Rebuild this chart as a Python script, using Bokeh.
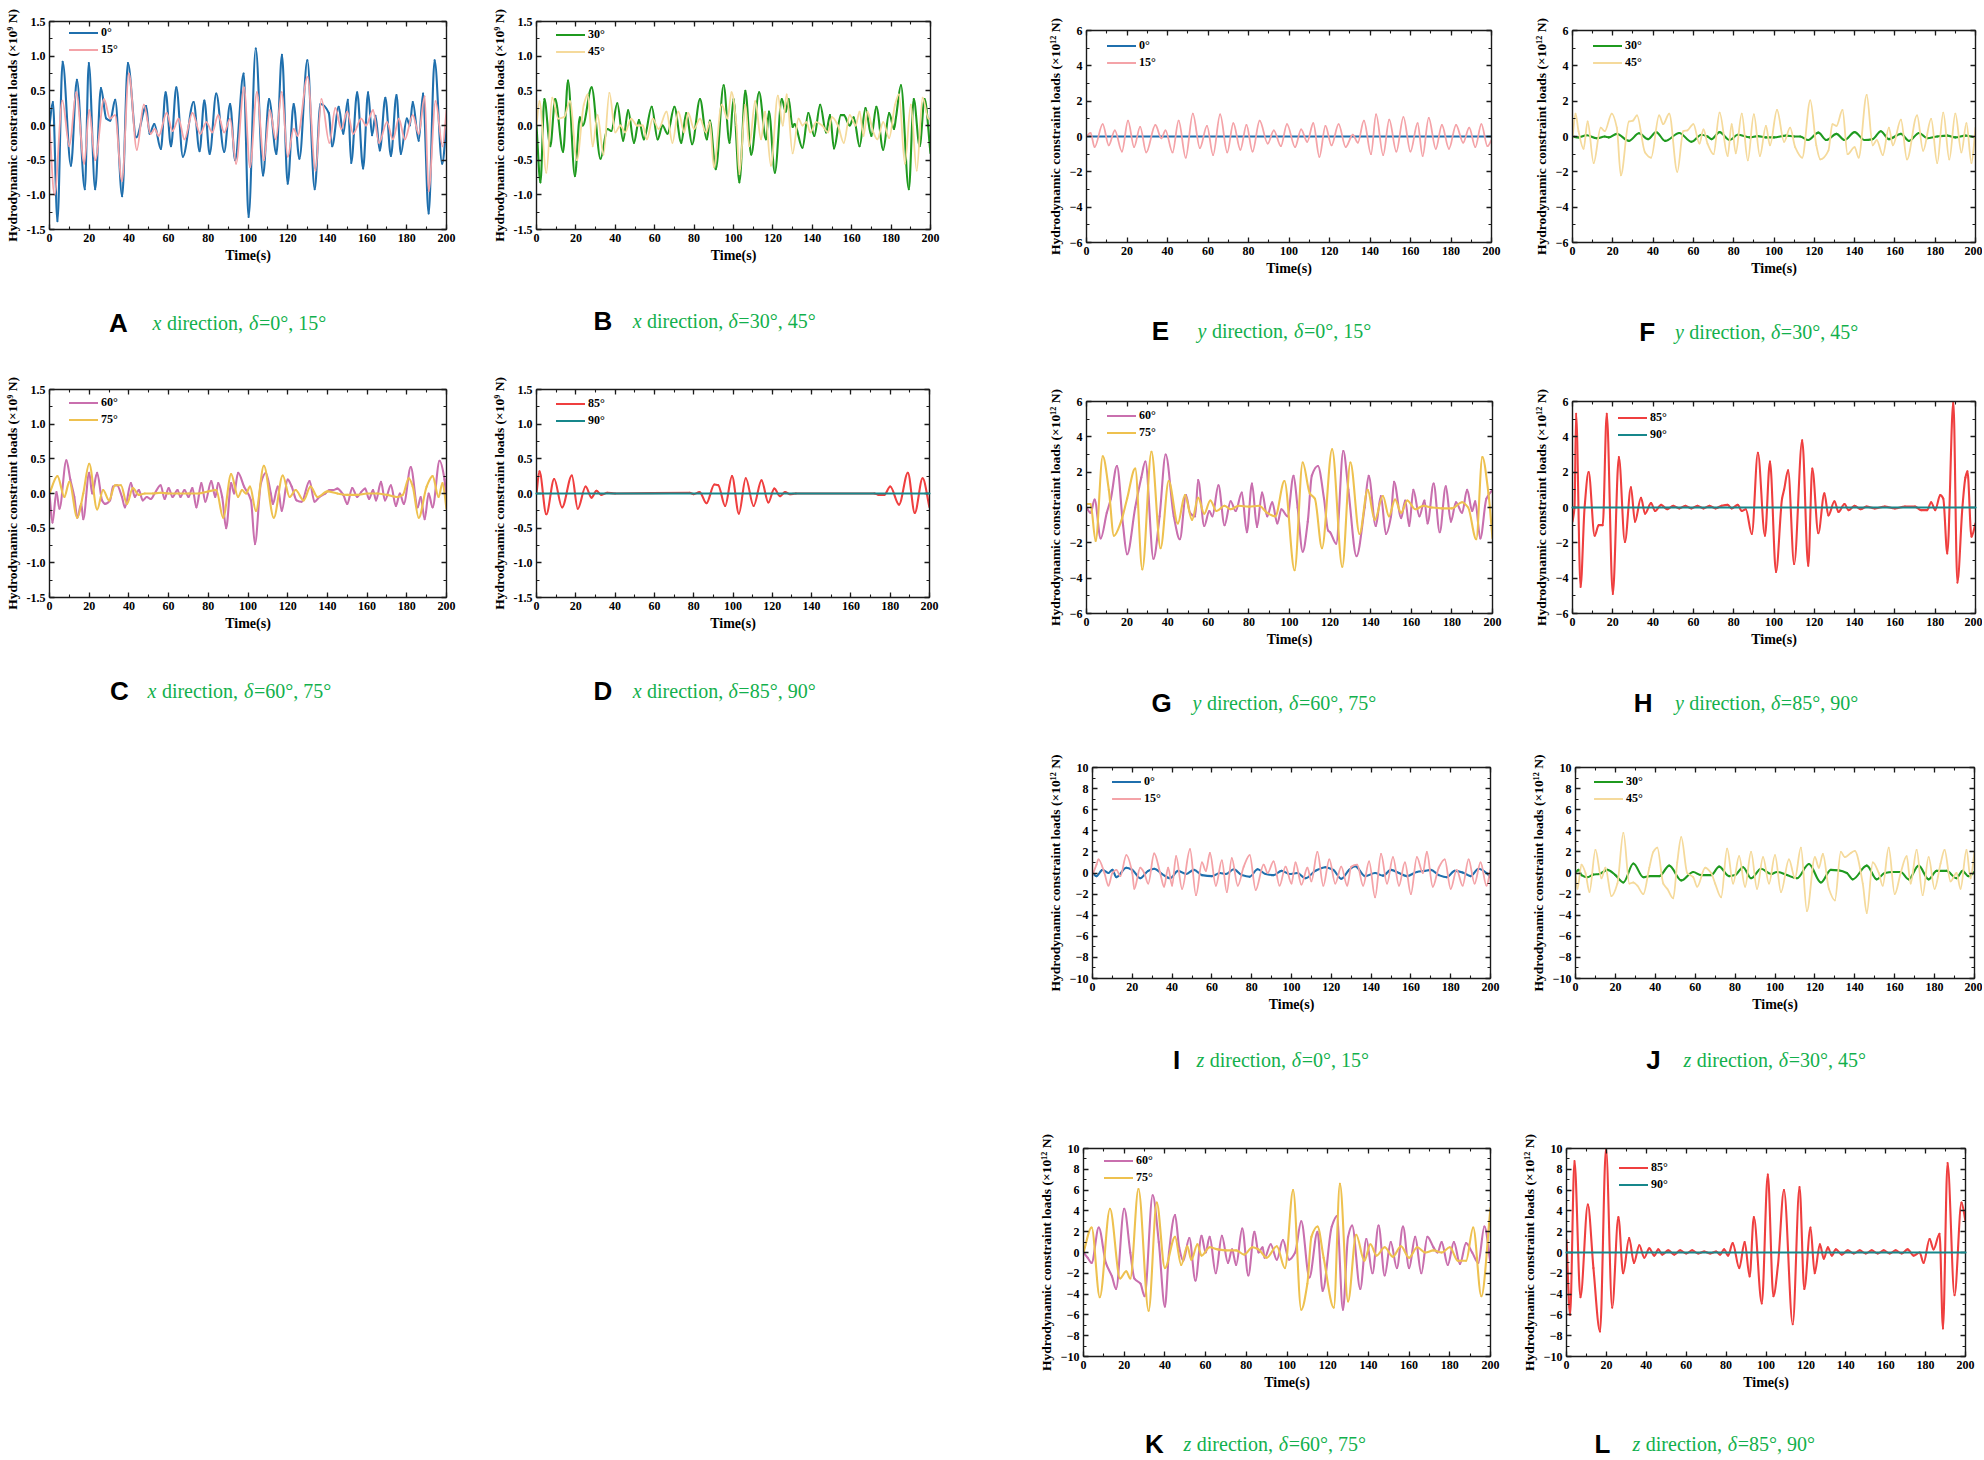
from bokeh.plotting import figure
from bokeh.models import (Range1d, LinearAxis, SingleIntervalTicker, NumeralTickFormatter,
                          Legend, LegendItem, Label)
from bokeh.layouts import row, column
from bokeh.embed import file_html
from bokeh.resources import INLINE

SERIF = "Liberation Serif"
SANS = "Liberation Sans"
GREEN = "#12B04C"

# ---------------- data (time s, load) ----------------
A_0 = [(0,0),(1.7,0.34),(4,-1.38),(6.6,0.92),(10.8,-0.58),(13.8,0.66),(17.8,-0.92),(19.8,0.9),(23,-0.92),(25.9,0.54),(28.6,0.1),(30.6,0.07),(33.1,0.37),(36.6,-1.02),(39.5,0.9),(43.7,-0.17),(48.7,0.28),(50.4,-0.12),(52.8,0.02),(56.1,-0.34),(58.5,0.48),(61.2,-0.3),(63.9,0.55),(67.2,-0.45),(72.6,0.34),(75.6,-0.37),(78,0.36),(80.7,-0.41),(84,0.46),(88,-0.38),(91,0.31),(93.5,-0.5),(97.8,0.75),(100.3,-1.32),(103.9,1.11),(107.6,-0.72),(110.6,0.38),(114.3,-0.41),(117.1,1.02),(120,-0.84),(123,0.31),(125.9,-0.48),(129.9,0.94),(133.6,-0.92),(136.5,0.31),(140.7,0.18),(142.4,-0.3),(145.7,0.27),(148,-0.12),(150.3,0.37),(152,-0.54),(155,0.48),(158,-0.62),(160.5,0.48),(162.5,-0.14),(164.2,0.14),(166.4,-0.36),(169.2,0.4),(172,-0.44),(174.8,0.44),(177,-0.41),(180,0.1),(181.5,0.0),(183,0.34),(186,-0.22),(188.2,0.46),(191,-1.27),(194,0.94),(197.8,-0.55),(200,0.0)]
A_15 = [(0,0),(2.5,-1.0),(6.5,0.36),(10,-0.3),(13.5,0.48),(17.5,-0.55),(20,0.22),(23,-0.5),(27.5,0.38),(30.5,0.1),(33,0.15),(36.5,-0.8),(40,0.75),(44,-0.35),(47.5,0.3),(51,-0.12),(53,-0.05),(55,-0.15),(59,0.18),(62,-0.08),(65,0.1),(68,-0.2),(72,0.18),(76,-0.12),(79,0.05),(82,-0.1),(85,0.15),(88,-0.1),(91,0.1),(94,-0.55),(98,0.55),(101,-0.6),(104.5,0.48),(108,-0.5),(111,0.22),(114,-0.2),(117,0.48),(120,-0.45),(123,-0.05),(125,-0.15),(130,0.7),(134,-0.65),(137,0.38),(141,-0.25),(144,0.25),(147,-0.05),(150,0.2),(153,-0.12),(157,0.1),(159.5,0.0),(163,0.22),(166,-0.25),(170,0.05),(173,-0.2),(176,0.1),(179,-0.2),(183,0.15),(186,-0.12),(189,0.42),(191,-0.95),(194.5,0.35),(198,-0.3),(200,0.22)]
B_30 = [(0,0),(2,-0.82),(4,0.38),(7,-0.3),(9.5,0.38),(13.5,-0.38),(16,0.65),(19.5,-0.73),(22,0.12),(23.5,0.0),(28,0.55),(32.5,-0.48),(36,-0.05),(38,-0.08),(41,0.32),(44,-0.22),(46.5,0.22),(49.5,-0.25),(52,0.08),(54.5,-0.2),(58.5,0.27),(61.5,-0.2),(64,0.0),(66.5,-0.12),(70,0.27),(73.5,-0.25),(76,0.18),(79,-0.27),(83,0.38),(86.5,-0.2),(88,0.07),(91,-0.63),(95,0.58),(98,-0.25),(100,0.38),(103,-0.82),(106,0.5),(109,-0.42),(113,0.48),(116.5,-0.2),(118,0.2),(121,-0.68),(124.5,0.38),(126.5,0.2),(128,0.38),(130,-0.02),(131,0.02),(135,-0.32),(138,0.18),(141,-0.15),(144,0.3),(147,-0.1),(149,0.15),(151,-0.33),(154.5,0.15),(156,0.15),(159,0.0),(161,0.12),(164,-0.3),(167,0.25),(170,-0.15),(172.5,0.27),(176,-0.35),(179,0.18),(181.5,-0.05),(182.5,0.12),(185,0.58),(189,-0.92),(191.5,0.38),(194.5,-0.3),(197,0.38),(200,-0.4)]
B_45 = [(0,0),(1.5,0.35),(5,-0.68),(8,0.4),(11,0.1),(14,0.12),(17,0.35),(20.5,-0.5),(24,0.3),(26,0.45),(28.5,-0.3),(31,0.15),(34,-0.42),(37,0.47),(40,-0.1),(42.5,0.0),(45,-0.1),(48,0.1),(51,0.0),(54,0.0),(56,-0.2),(59,0.1),(62,-0.05),(66,0.2),(69,-0.25),(72,0.2),(75,-0.1),(77,0.18),(80,-0.05),(83,0.1),(86,-0.1),(88,0.05),(90,-0.6),(94,0.3),(97,0.1),(99,0.48),(101.5,0.0),(103,-0.7),(106,0.3),(108,-0.3),(111,0.35),(114,-0.2),(116,0.2),(119,-0.58),(122.5,0.43),(125,0.0),(127,0.45),(130,-0.4),(133,0.1),(135,0.0),(137,0.05),(139,-0.1),(142,0.05),(145,0.0),(148,-0.1),(150,0.12),(153,0.0),(156,-0.25),(159,0.15),(162,0.0),(164,0.2),(166,-0.15),(168,0.2),(171,-0.1),(173,-0.2),(176,0.05),(179,-0.18),(182,0.3),(184,0.45),(187,-0.55),(190,0.3),(193,-0.65),(196,0.4),(199,0.1),(200,0.1)]
C_60 = [(0,0),(1.5,-0.42),(3.5,0.02),(5,-0.22),(8.5,0.48),(10.5,0.2),(12.5,-0.05),(14,-0.35),(16,-0.15),(17,-0.37),(20,0.3),(21.5,0.0),(24,0.3),(26.5,-0.1),(28,-0.15),(30.5,-0.1),(32,0.1),(34,0.12),(36.5,-0.05),(38,-0.2),(41,0.15),(43,-0.05),(45,0.05),(47,-0.1),(49,-0.05),(51,-0.08),(53,0.0),(56,0.12),(58,-0.08),(60,0.08),(62,-0.05),(64.5,0.05),(66,-0.05),(68,0.05),(70,-0.05),(72,0.08),(74,-0.2),(76.5,0.15),(78.5,-0.12),(81.5,0.18),(83.5,-0.05),(85,0.15),(87,-0.05),(89,-0.5),(91.5,0.15),(93,0.0),(95,0.3),(98,0.1),(101.5,-0.1),(103.5,-0.73),(106.5,0.15),(109,0.3),(111.5,0.0),(112.5,-0.15),(115,0.1),(117,-0.25),(120,0.2),(122,0.1),(124.5,-0.1),(127,-0.12),(131,0.18),(133.5,-0.12),(136,-0.05),(139,0.0),(141,0.05),(143,0.05),(145,0.07),(148,-0.02),(150,-0.15),(152.5,0.08),(155,-0.05),(157,0.02),(159,0.07),(161,-0.08),(163,0.05),(164.5,-0.1),(167,0.17),(169,-0.1),(172,0.12),(174.5,-0.18),(176.5,0.0),(178.5,-0.15),(182,0.38),(185.5,-0.2),(187,-0.05),(189,-0.37),(191,0.0),(193,-0.2),(196.5,0.47),(199,0.2),(200,-0.15)]
C_75 = [(0,0),(4,0.25),(7.5,-0.05),(10,0.17),(14,-0.35),(17,0.0),(20,0.43),(24,-0.23),(27,0.05),(30,-0.1),(33,0.12),(36,0.12),(39,-0.15),(42,0.08),(45,-0.02),(48,0.0),(52,0.0),(56,0.01),(60,0.0),(65,0.0),(70,0.0),(75,0.0),(80,0.03),(84,0.05),(87.5,-0.35),(91.5,0.28),(95,-0.05),(97,0.05),(99,0.0),(101,0.1),(104,-0.25),(108,0.4),(113,-0.35),(117.5,0.26),(121,-0.05),(124,0.05),(128,-0.1),(131.5,0.1),(135,-0.05),(140,0.03),(145,0.0),(150,-0.02),(155,-0.02),(160,0.0),(165,0.0),(170,-0.02),(175,-0.05),(178,-0.02),(181,0.22),(183,0.1),(186,-0.35),(190,0.1),(193,0.25),(196,-0.05),(198,0.15),(200,-0.22)]
D_85 = [(0,0),(1.5,0.32),(5,-0.3),(9,0.21),(13,-0.2),(18,0.26),(21,-0.22),(25,0.1),(28,-0.06),(30.5,0.04),(33,-0.02),(36,0.01),(40,0.0),(78,0.01),(80,-0.01),(83,0.02),(86.5,-0.14),(90.5,0.13),(92.5,0.12),(96,-0.18),(99.5,0.25),(103,-0.29),(106.5,0.22),(110.5,-0.18),(114.5,0.19),(118,-0.13),(121,0.07),(124,-0.04),(126.5,0.02),(129,-0.01),(132,0.0),(172,0.0),(174,-0.02),(177,-0.02),(180,0.1),(184.5,-0.16),(189,0.3),(192.5,-0.28),(196.5,0.22),(200,-0.2)]
D_90 = [(0,0.0),(200,0.0)]
E_0 = [(0,0.0),(200,0.0)]
E_15 = [(0,0),(2,0.2),(4,-0.6),(8,0.7),(11,-0.5),(14,0.35),(17.5,-0.85),(20.5,0.9),(23.5,-0.6),(26.5,0.55),(29.5,-0.9),(34,0.65),(37,-0.1),(39,0.35),(42.5,-0.9),(45.5,0.9),(49,-1.2),(52.5,1.3),(56,-0.65),(59.5,0.6),(62.5,-1.05),(66,1.25),(69.5,-0.9),(72.5,0.75),(76,-0.75),(79,0.65),(82,-0.85),(85.5,0.9),(89.5,-0.4),(92.5,0.35),(96,-0.55),(99,0.7),(103,-0.6),(106,0.4),(109,-0.3),(112,0.75),(115,-1.15),(118,0.6),(121,-0.5),(124.5,0.7),(128,-0.6),(131.5,0.1),(134,-0.35),(137,0.9),(140.5,-1.0),(143,1.25),(146.5,-1.05),(149.5,0.95),(153,-0.85),(156.5,1.1),(160,-0.85),(163.5,0.75),(166,-1.1),(169,1.05),(172.5,-0.7),(175.5,0.65),(179,-0.7),(182.5,0.65),(186,-0.35),(189,0.5),(192,-0.6),(195,0.7),(198,-0.55),(200,-0.2)]
F_30 = [(0,0),(3,-0.05),(7,0.07),(12,-0.1),(16,0.0),(18,-0.05),(22,0.15),(28,-0.25),(33,0.18),(37.5,-0.15),(41.5,0.25),(46,-0.25),(53,0.2),(59,-0.3),(64,0.1),(67,0.0),(69,-0.15),(73,0.25),(78,-0.2),(82,0.1),(88,-0.05),(92,0.02),(96,-0.05),(100,-0.05),(106,0.05),(110,0.0),(113,0.0),(117,-0.2),(122,0.22),(126,-0.2),(131,0.15),(135,-0.2),(140,0.25),(145,-0.2),(149,-0.15),(153,0.3),(157,-0.15),(163,0.15),(167,-0.25),(172,0.2),(176,-0.1),(181,0.0),(186,0.05),(190,-0.05),(195,0.05),(200,-0.05)]
F_45 = [(0,-0.1),(1.5,1.3),(3,0.3),(5.5,-0.7),(7.5,0.85),(10.5,-1.5),(14,0.5),(16,0.3),(19.5,1.3),(22,0.5),(24,-2.2),(28,0.85),(30,0.9),(32,1.2),(36,-0.9),(39,-1.2),(43,1.2),(45,0.7),(48,1.3),(52,-2.0),(55,0.3),(57,0.35),(60,0.7),(63,-0.4),(65,0.4),(67,-0.4),(70,-1.0),(73,1.35),(77,-1.1),(79,0.7),(81,-0.95),(84,1.3),(87,-1.35),(90,1.25),(93,-1.1),(96,0.6),(98,-0.5),(101.5,1.5),(105,-0.3),(108,0.5),(110.5,-0.6),(114,-1.2),(118,2.05),(121,-0.5),(123,-1.3),(127,-0.8),(129,0.7),(131,0.6),(134,1.5),(136.5,-1.0),(140,-0.6),(142,-1.2),(146,2.35),(149,-0.5),(151,-0.2),(154,-1.05),(157,0.5),(159,-0.5),(163,0.95),(166,-1.3),(171,1.2),(174,-0.8),(178,1.0),(181,-1.5),(184,1.35),(187,-1.3),(190,1.3),(193,-0.9),(195.5,0.75),(198,-1.5),(200,0.5)]
G_60 = [(0,0),(2,-0.3),(4,0.45),(7,-1.75),(10,-0.3),(12,0.5),(15,2.35),(18,-1.0),(20,-2.65),(24,0.0),(27,1.7),(29,2.6),(33,-2.9),(36,-0.5),(39,3.0),(43,-0.5),(46,-1.8),(49,0.7),(51,-0.3),(53.5,-0.5),(55,1.55),(58,-1.05),(60.5,-0.2),(62,-0.5),(65,1.25),(68,-1.0),(71,0.35),(73.5,-0.2),(76.5,0.85),(79,-1.4),(81.5,1.35),(84,-1.1),(86.5,0.85),(89,-0.5),(91.5,0.3),(94,-0.9),(96,-0.1),(99,-0.5),(102,1.8),(104,0.0),(106.5,-2.5),(109,-0.8),(111,1.8),(114,2.35),(117,0.5),(119,-1.3),(120,-1.4),(123,-2.05),(126.5,3.2),(129,1.0),(133,-2.75),(137,0.0),(139,1.8),(142.5,-1.05),(145,0.65),(147.5,-1.5),(150,-0.5),(151.5,1.45),(155,-0.6),(157,0.4),(159,-1.05),(161,1.0),(164,-0.5),(166.5,0.4),(168,-0.9),(171,1.35),(174,-1.4),(177,1.2),(179.5,-0.8),(182,0.3),(185,-0.3),(187.5,1.0),(190,-0.2),(191.5,0.35),(194,-1.75),(197,0.5),(200,1.0)]
G_75 = [(0,0.2),(2,0.2),(4.5,-1.9),(8,2.9),(11,1.0),(13.5,-1.6),(17,-0.8),(20,0.5),(24,2.2),(27.5,-3.5),(32,3.15),(36.5,-2.3),(40.5,1.5),(45,-0.9),(48.5,0.7),(52,-0.7),(55,0.55),(58,-0.35),(61,0.4),(64,-0.2),(68,0.1),(71,-0.1),(75,0.1),(80,0.05),(85,0.1),(89,-0.3),(93,-0.5),(97.5,1.5),(102.5,-3.55),(106.5,2.55),(110,0.8),(112.5,0.5),(116,-2.3),(121,3.3),(126,-3.35),(130,2.55),(134.5,-1.5),(138.5,1.0),(142,-0.7),(146,0.65),(149,-0.5),(152,0.45),(155,-0.3),(158,0.4),(162,-0.1),(166,0.1),(170,0.0),(175,-0.05),(180,-0.05),(185,0.3),(188,0.0),(192,-1.8),(195,2.85),(198,0.8),(200,-1.75)]
H_85 = [(0,-0.8),(1,0.0),(1.8,5.3),(4,-4.5),(6,0.0),(8,2.0),(11,-1.6),(13,-1.0),(15,-1.0),(17,5.3),(20,-4.9),(23,2.85),(26,-1.95),(29,1.15),(31,-0.8),(34,0.55),(36,-0.35),(39,0.25),(41,-0.2),(44,0.15),(47,-0.1),(50,0.1),(53,-0.05),(56,0.1),(59,-0.05),(62,0.1),(65,-0.05),(68,0.1),(71,-0.05),(74,0.1),(77,0.15),(79,-0.05),(82,0.15),(84,-0.2),(86,-0.1),(89,-1.5),(92,3.1),(95.5,-1.6),(98,2.6),(101,-3.65),(104,0.5),(105,1.0),(107,2.1),(110,-3.2),(114,3.8),(117,-3.3),(119,2.2),(122,-1.45),(125,0.8),(127,-0.45),(130,0.35),(132,-0.25),(135,0.2),(137,-0.15),(140,0.1),(143,-0.1),(146,0.05),(150,-0.05),(155,0.05),(160,-0.05),(165,0.05),(170,0.05),(173,-0.15),(176,-0.15),(178,0.3),(180,-0.15),(182.5,0.7),(184,0.5),(186,-2.6),(189,6.0),(191,-4.25),(193.5,0.0),(195,1.7),(196,2.05),(198,-1.65),(200,-0.9)]
H_90 = [(0,0.0),(200,0.0)]
I_0 = [(0,0.0),(2,-0.3),(5,0.3),(8,0.0),(10,0.3),(12,-0.4),(17,0.5),(20,0.3),(24,-0.5),(28,0.2),(31,0.4),(35,-0.1),(39,-0.5),(43,0.2),(47,-0.1),(51,0.3),(55,-0.2),(60,-0.3),(64,0.0),(67,-0.1),(71,0.35),(75,-0.2),(79,-0.35),(83,0.35),(87,-0.1),(91,-0.2),(95,0.2),(99,-0.1),(103,0.0),(107,-0.5),(112,0.2),(117,0.55),(121,0.3),(125,-0.55),(129,0.3),(132,0.65),(137,-0.3),(142,0.0),(146,-0.25),(150,0.3),(154,0.0),(158,-0.3),(163,0.1),(167,0.2),(170,0.3),(174,-0.2),(178,-0.4),(182,0.2),(186,0.05),(190,-0.3),(194,0.4),(198,0.0),(200,-0.4)]
I_15 = [(0,-0.2),(2,0.8),(3,1.3),(6,0.0),(8,-1.2),(10,0.0),(12,0.3),(14,-0.3),(17,1.7),(20,0.0),(21,-1.5),(24,0.5),(26,0.0),(28,-1.0),(31,1.85),(34,0.0),(36,-1.3),(38,0.5),(40,-1.2),(42,1.6),(45,-1.5),(49,2.25),(52,-2.1),(55,1.0),(57,0.2),(59,1.9),(62,-1.2),(65,1.2),(67.5,-1.8),(70,1.4),(73,-1.2),(76,0.6),(79,1.7),(82,-1.6),(86,0.8),(88,0.0),(91,1.1),(94,-1.2),(97,0.6),(100,-1.0),(102,1.0),(105,-1.1),(108,0.5),(110,-0.8),(113,2.0),(116,-1.2),(119,1.3),(122,-1.0),(125,0.6),(128,-1.2),(130,0.6),(133,0.8),(136,-1.2),(139,1.1),(142,-2.3),(145,1.8),(148,-1.0),(151,1.5),(154,-1.2),(157,1.0),(160,-2.0),(163,1.5),(166,0.0),(168,2.0),(171,-1.3),(174,0.5),(177,1.3),(180,-1.5),(183,0.3),(186,-1.2),(189,1.3),(192,-1.0),(195,1.0),(198,-1.2),(200,0.3)]
J_30 = [(0,0.0),(1.5,0.3),(3,-0.2),(6,-0.4),(9,-0.15),(12,-0.1),(16,0.3),(20,-0.2),(24,-0.9),(29,0.9),(34,-0.4),(37,-0.3),(42,-0.3),(47,0.7),(53,-0.7),(59,0.1),(63,-0.2),(68,-0.2),(72,0.6),(77,-0.3),(80,-0.2),(84,0.55),(88,-0.5),(93,0.4),(98,-0.1),(101,0.1),(106,-0.2),(111,-0.5),(117,0.85),(123,-0.9),(128,0.3),(132,0.25),(136,0.0),(139,-0.6),(146,0.7),(151,-0.6),(155,0.0),(159,0.1),(163,0.1),(167,-0.6),(172,0.7),(177,-0.6),(181,0.2),(186,0.2),(191,-0.5),(194,0.2),(197,-0.3),(200,0.1)]
J_45 = [(0,0.0),(1,-1.5),(3,0.8),(5,0.0),(7,-1.8),(10,2.2),(13,-0.5),(15,0.5),(18,-2.2),(21,-1.0),(24,3.8),(27,-1.0),(29,-0.9),(31,-1.2),(34,-2.0),(37,0.5),(39,2.0),(41,2.4),(44,-1.0),(46,-1.5),(49,-2.4),(51,1.0),(53,3.4),(56,0.0),(59,-0.4),(61,-1.3),(65,0.5),(68,0.0),(70,-1.0),(73,-2.3),(76,2.3),(79,-1.0),(82,1.6),(85,-1.3),(88,2.0),(91,-1.5),(94,1.5),(97,-1.0),(100,1.7),(103,-1.8),(107,1.3),(110,-0.5),(113,2.4),(116,-3.6),(120,1.5),(122,0.5),(124,1.8),(127,-1.5),(130,-2.6),(133,2.0),(135,1.5),(138,1.9),(140,2.1),(144,-1.0),(146,-3.8),(149,1.0),(152,0.0),(154,-1.2),(157,2.4),(160,-2.0),(163,0.0),(166,1.6),(168,-1.0),(171,2.2),(174,-2.1),(177,1.5),(180,-1.5),(183,0.9),(185,2.2),(188,-0.8),(191,0.0),(193,-1.5),(196,2.2),(198,-0.5),(200,2.0)]
K_60 = [(0,0.0),(2,-0.5),(4,-1.0),(7.5,2.4),(11,-1.0),(14,-2.3),(16,-3.5),(20,4.2),(23,0.0),(25,-2.5),(28,-3.0),(30,-4.2),(34,5.5),(37,1.0),(40,-5.2),(42,0.0),(45,3.6),(47,0.5),(49,-0.8),(52,1.4),(55,-2.7),(58,1.6),(60,0.0),(62,1.5),(65,-2.0),(68,1.6),(71,-1.0),(73,0.3),(75,-1.2),(78,2.3),(81,-2.2),(84,2.0),(86,0.0),(88,0.5),(89,-0.5),(92,0.8),(95,-0.7),(98,1.2),(101,-0.7),(104,0.0),(107,3.0),(111,-2.4),(115,2.0),(117.5,-3.7),(122,2.5),(124.5,3.5),(127.5,-5.5),(130,1.5),(132,2.6),(136,-3.5),(139,1.3),(142,-2.0),(145,2.6),(148,-2.2),(151,1.0),(154,-1.5),(157,2.5),(160,-1.5),(163,1.5),(166,-2.0),(169,1.5),(172,0.5),(174,0.0),(176,1.0),(179,-1.2),(182,1.0),(185,-1.1),(188,0.9),(191,0.0),(194,-1.0),(197,2.5),(200,-1.0)]
K_75 = [(0,0.0),(4,2.4),(8,-4.3),(13,4.2),(18,-2.5),(21,-1.8),(23,-2.5),(27,6.1),(32,-5.6),(36,4.8),(40,-1.5),(45,1.5),(48,-1.2),(51,0.6),(53,-0.7),(56,0.8),(58,-0.3),(62,0.5),(66,0.3),(70,0.2),(75,0.2),(79,-0.2),(83,0.5),(86,0.3),(90,-0.5),(95,0.6),(99,-1.5),(103,6.0),(107,-5.5),(110,-3.0),(112,1.5),(115,2.5),(118,-0.5),(123,-5.3),(126,6.6),(130,-4.7),(134,1.7),(138,-0.8),(141,0.8),(144,-0.3),(148,0.5),(152,-0.4),(156,0.6),(160,-0.5),(164,0.5),(168,0.0),(172,0.2),(176,0.0),(180,0.5),(184,-0.8),(188,-0.8),(191.5,2.4),(195.5,-4.2),(200,4.3)]
L_85 = [(0,1.2),(1.8,-6.0),(4,8.8),(7,-4.3),(10.7,4.6),(13.5,-1.5),(16.8,-7.6),(19.8,10.0),(22.9,-5.3),(26,3.4),(28.4,-2.0),(31.4,1.4),(33.8,-1.0),(36.5,0.7),(39,-0.5),(41.5,0.4),(44,-0.3),(46,0.3),(48,-0.2),(51,0.2),(54,-0.2),(57,0.2),(60,-0.1),(63,0.2),(66,-0.1),(69,0.1),(72,-0.1),(75,0.1),(77,-0.2),(79,0.3),(81,-0.3),(83.3,0.9),(86.6,-1.5),(89.3,1.0),(91.8,-2.3),(93.9,3.4),(97.9,-4.9),(100.9,7.5),(103.7,-4.2),(106,-1.2),(109,6.0),(113.4,-6.9),(116.8,6.3),(119.2,-3.5),(122.3,2.4),(124.4,-2.0),(127,0.8),(129,-0.6),(131,0.5),(133,-0.3),(135,0.3),(138,-0.2),(141,0.2),(144,-0.1),(147,0.2),(150,-0.1),(153,0.2),(156,-0.1),(159,0.2),(162,-0.1),(165,0.2),(168,-0.1),(171,0.3),(174,-0.3),(177,0.0),(179,-1.0),(182,1.3),(184,0.3),(187,1.8),(188.7,-7.3),(191,8.6),(194.5,-4.1),(198,4.8),(200,3.0)]
L_90 = [(0,0.0),(200,0.0)]

COL = {"0": "#1F6FAD", "15": "#F4A3A8", "30": "#1F9A1F", "45": "#F5DA9C",
       "60": "#C96FAE", "75": "#EEC14F", "85": "#EF3F3F", "90": "#17878B"}

LAB9 = "Hydrodynamic constraint loads (×10⁹ N)"
LAB12 = "Hydrodynamic constraint loads (×10¹² N)"

# page-coordinate boxes (page origin at top-left): figure box, frame box
PANELS = [
    ("A", (0, 0, 488, 372), (49, 21, 446, 229), (-1.5, 1.5), 0.5, LAB9,
     [("0", A_0), ("15", A_15)], (20, 14), ("x", "=0°, 15°", 118, 322, 152)),
    ("B", (488, 0, 968, 372), (533, 21, 930, 229), (-1.5, 1.5), 0.5, LAB9,
     [("30", B_30), ("45", B_45)], (20, 16), ("x", "=30°, 45°", 600, 320, 630)),
    ("C", (0, 372, 488, 740), (49, 389, 446, 597), (-1.5, 1.5), 0.5, LAB9,
     [("60", C_60), ("75", C_75)], (20, 16), ("x", "=60°, 75°", 119, 690, 147)),
    ("D", (488, 372, 968, 740), (533, 389, 929, 597), (-1.5, 1.5), 0.5, LAB9,
     [("85", D_85), ("90", D_90)], (20, 17), ("x", "=85°, 90°", 600, 690, 630)),
    ("E", (968, 0, 1530, 385), (1086, 30, 1491, 242), (-6, 6), 2, LAB12,
     [("0", E_0), ("15", E_15)], (21, 18), ("y", "=0°, 15°", 1160, 330, 1197)),
    ("F", (1530, 0, 1982, 385), (1570, 30, 1975, 242), (-6, 6), 2, LAB12,
     [("30", F_30), ("45", F_45)], (21, 18), ("y", "=30°, 45°", 1645, 331, 1673)),
    ("G", (968, 385, 1530, 752), (1086, 401, 1492, 613), (-6, 6), 2, LAB12,
     [("60", G_60), ("75", G_75)], (21, 17), ("y", "=60°, 75°", 1161, 702, 1192)),
    ("H", (1530, 385, 1982, 752), (1570, 401, 1975, 613), (-6, 6), 2, LAB12,
     [("85", H_85), ("90", H_90)], (46, 19), ("y", "=85°, 90°", 1641, 702, 1673)),
    ("I", (968, 752, 1526, 1132), (1092, 767, 1490, 978), (-10, 10), 2, LAB12,
     [("0", I_0), ("15", I_15)], (20, 17), ("z", "=0°, 15°", 1176, 1059, 1196)),
    ("J", (1526, 752, 1982, 1132), (1575, 767, 1974, 978), (-10, 10), 2, LAB12,
     [("30", J_30), ("45", J_45)], (19, 17), ("z", "=30°, 45°", 1653, 1059, 1683)),
    ("K", (968, 1132, 1518, 1458), (1083, 1148, 1490, 1356), (-10, 10), 2, LAB12,
     [("60", K_60), ("75", K_75)], (21, 15), ("z", "=60°, 75°", 1154, 1443, 1183)),
    ("L", (1518, 1132, 1982, 1458), (1566, 1148, 1965, 1356), (-10, 10), 2, LAB12,
     [("85", L_85), ("90", L_90)], (53, 22), ("z", "=85°, 90°", 1602, 1443, 1632)),
]

CAP_GAP = 52  # space under the frame kept inside the plot figure for axis texts


def style_axis(ax, labels=True):
    ax.axis_line_color = "#1a1a1a"
    ax.axis_line_width = 1.4
    ax.major_tick_line_color = "#1a1a1a"
    ax.minor_tick_line_color = "#1a1a1a"
    ax.major_tick_line_width = 1.3
    ax.minor_tick_line_width = 1.1
    ax.major_tick_in = 5
    ax.major_tick_out = 0
    ax.minor_tick_in = 3
    ax.minor_tick_out = 0
    ax.major_label_text_font = SERIF
    ax.major_label_text_font_style = "bold"
    ax.major_label_text_color = "black"
    ax.axis_label_text_font = SERIF
    ax.axis_label_text_font_style = "bold"
    ax.axis_label_text_font_size = "13.5px"
    ax.axis_label_text_color = "black"
    ax.axis_label_standoff = 4
    if labels:
        ax.major_label_text_font_size = "12px"
        ax.major_label_standoff = 4
    else:
        ax.major_label_text_font_size = "1px"
        ax.major_label_text_color = None
        ax.major_label_standoff = 0


def bezier_parts(data):
    """Monotone cubic (Fritsch-Carlson) curve through the read points, as Bezier pieces."""
    xs = [a for a, b in data]
    ys = [b for a, b in data]
    n = len(xs)
    h = [xs[i + 1] - xs[i] for i in range(n - 1)]
    d = [(ys[i + 1] - ys[i]) / h[i] for i in range(n - 1)]
    m = [0.0] * n
    m[0] = d[0]
    m[-1] = d[-1]
    for i in range(1, n - 1):
        if d[i - 1] * d[i] <= 0:
            m[i] = 0.0
        else:
            w1 = 2 * h[i] + h[i - 1]
            w2 = h[i] + 2 * h[i - 1]
            m[i] = (w1 + w2) / (w1 / d[i - 1] + w2 / d[i])
    src = dict(x0=[], y0=[], x1=[], y1=[], cx0=[], cy0=[], cx1=[], cy1=[])
    for i in range(n - 1):
        src["x0"].append(xs[i]); src["y0"].append(ys[i])
        src["x1"].append(xs[i + 1]); src["y1"].append(ys[i + 1])
        src["cx0"].append(xs[i] + h[i] / 3); src["cy0"].append(ys[i] + m[i] * h[i] / 3)
        src["cx1"].append(xs[i + 1] - h[i] / 3); src["cy1"].append(ys[i + 1] - m[i + 1] * h[i] / 3)
    return src


ITALIC_W = {"x": 8.9, "y": 8.9, "z": 7.8}
W_SPACE = 5.5
W_DIRECTION = 76.5
W_DELTA = 10.0


def make_panel(spec):
    key, gb, fb, yr, ytick, ylab, series, loff, cap = spec
    gx0, gy0, gx1, gy1 = gb
    fx0, fy0, fx1, fy1 = fb
    fh = fy1 - fy0
    cut = fy1 + CAP_GAP
    p = figure(width=gx1 - gx0, height=cut - gy0, output_backend="svg", toolbar_location=None,
               x_range=Range1d(0, 200), y_range=Range1d(*yr),
               min_border_left=fx0 - gx0, min_border_right=gx1 - fx1,
               min_border_top=fy0 - gy0, min_border_bottom=cut - fy1,
               x_axis_label="Time(s)", y_axis_label=ylab)
    p.xgrid.visible = False
    p.ygrid.visible = False
    p.outline_line_color = None
    p.background_fill_color = "white"
    p.border_fill_color = "white"

    xt = SingleIntervalTicker(interval=20, num_minor_ticks=2)
    yt = SingleIntervalTicker(interval=ytick, num_minor_ticks=2)
    p.xaxis.ticker = xt
    p.yaxis.ticker = yt
    if ytick == 0.5:
        p.yaxis.formatter = NumeralTickFormatter(format="0.0")
    for ax in p.xaxis + p.yaxis:
        style_axis(ax, True)
    p.xaxis.axis_label_text_font_size = "14px"
    p.xaxis.axis_label_standoff = 3
    top = LinearAxis(ticker=xt)
    right = LinearAxis(ticker=yt)
    style_axis(top, False)
    style_axis(right, False)
    p.add_layout(top, "above")
    p.add_layout(right, "right")

    rends = []
    for name, data in series:
        lw = 1.8 if name in ("45", "15") else 2.1
        if name == "90" or (name == "0" and key == "E"):
            lw = 2.2
        r = p.bezier(x0="x0", y0="y0", x1="x1", y1="y1", cx0="cx0", cy0="cy0",
                     cx1="cx1", cy1="cy1", source=bezier_parts(data),
                     line_color=COL[name], line_width=lw, line_cap="round")
        rends.append((name, r))
    if series[1][0] == "90":
        rends[1][1].level = "overlay"

    leg_h = 13 * 2 + 2
    dx, dy = loff
    vy = fh - (dy - 6.5) - leg_h
    legend = Legend(items=[LegendItem(label=n + "°", renderers=[r]) for n, r in rends],
                    location=(dx, vy), orientation="vertical",
                    border_line_color=None, background_fill_alpha=0,
                    label_text_font=SERIF, label_text_font_style="bold",
                    label_text_font_size="12px", label_text_color="black",
                    glyph_width=29, glyph_height=13, label_height=13,
                    label_standoff=3, spacing=2, padding=0, margin=0)
    p.add_layout(legend)

    # caption strip below the plot; its data units are page pixels
    ch = gy1 - cut
    c = figure(width=gx1 - gx0, height=ch, output_backend="svg", toolbar_location=None,
               x_range=Range1d(fx0, fx1), y_range=Range1d(gy1, cut),
               x_axis_type=None, y_axis_type=None,
               min_border_left=fx0 - gx0, min_border_right=gx1 - fx1,
               min_border_top=0, min_border_bottom=0)
    c.xgrid.visible = False
    c.ygrid.visible = False
    c.outline_line_color = None
    c.background_fill_color = "white"
    c.border_fill_color = "white"
    d, rest, lx, ly, tx = cap
    c.add_layout(Label(x=lx, y=ly, text=key,
                       text_font=SANS, text_font_style="bold", text_font_size="26px",
                       text_color="black", text_align="center", text_baseline="middle"))
    pieces = [(d, "italic", ITALIC_W[d] + W_SPACE), ("direction,", "normal", W_DIRECTION + W_SPACE),
              ("δ", "italic", W_DELTA), (rest, "normal", 0)]
    cx = tx
    for txt, sty, w in pieces:
        c.add_layout(Label(x=cx, y=ly, text=txt,
                           text_font=SERIF, text_font_style=sty, text_font_size="20px",
                           text_color=GREEN, text_align="left", text_baseline="middle"))
        cx += w
    return column(p, c)


figs = {spec[0]: make_panel(spec) for spec in PANELS}

left = column(row(figs["A"], figs["B"]), row(figs["C"], figs["D"]))
right = column(row(figs["E"], figs["F"]), row(figs["G"], figs["H"]),
               row(figs["I"], figs["J"]), row(figs["K"], figs["L"]))
layout = row(left, right)

open("out.html", "w").write(file_html(layout, INLINE, title="Hydrodynamic constraint loads"))
